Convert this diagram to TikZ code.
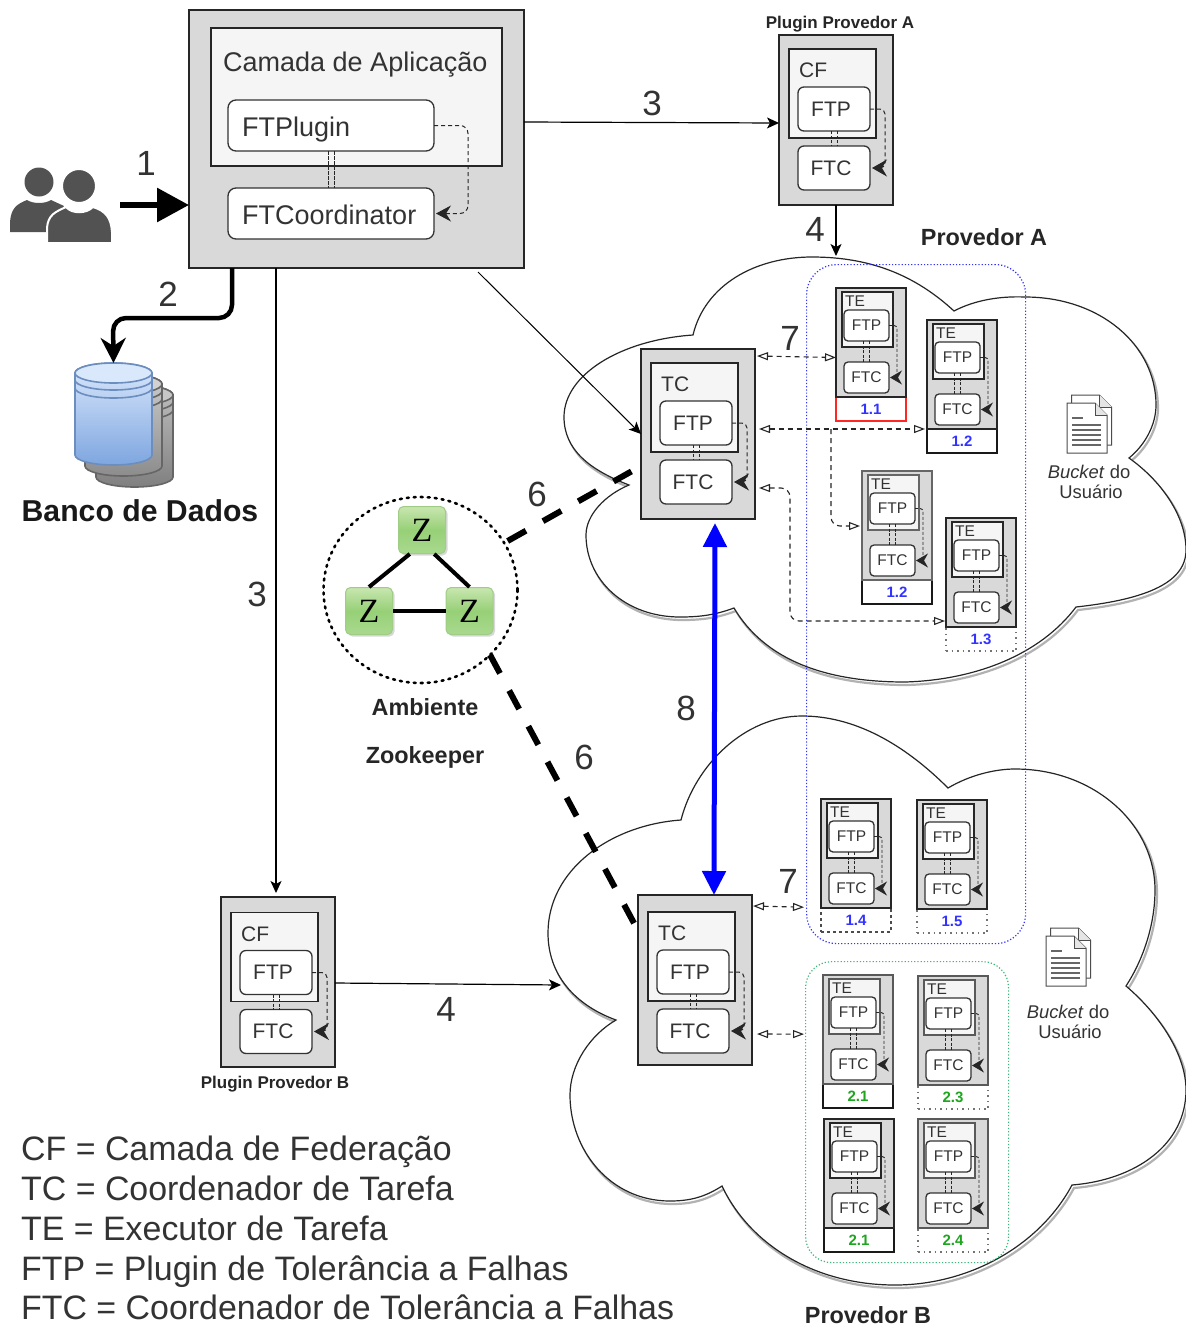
\documentclass[tikz,border=0pt]{standalone}
\usepackage{fontspec}
\setmainfont{Liberation Sans}
\newfontfamily\zfont{Liberation Serif}
\usetikzlibrary{arrows.meta,calc,shapes.geometric,shadows}
\definecolor{txt}{HTML}{333333}
\definecolor{boxg}{HTML}{D9D9D9}
\definecolor{inng}{HTML}{F5F5F5}
\definecolor{blu}{HTML}{3333FF}
\definecolor{grn}{HTML}{1FA51F}
\definecolor{grnb}{HTML}{3CB878}
\definecolor{dbtop}{HTML}{DAE8FC}
\definecolor{dbbot}{HTML}{7EA6E0}
\definecolor{dbline}{HTML}{6C8EBF}
\definecolor{ztop}{HTML}{C8E6B0}
\definecolor{zmid}{HTML}{97D077}
\definecolor{zbot}{HTML}{A9D98E}
\definecolor{zline}{HTML}{A0CC85}
\tikzset{
  outerbox/.style={draw=black!85,fill=boxg,line width=1.5pt,anchor=north west,inner sep=0pt,outer sep=0pt},
  innerbox/.style={draw=black!85,fill=inng,line width=1.5pt,anchor=north west,inner sep=0pt,outer sep=0pt},
  roundbox/.style={draw=black!80,fill=white,line width=1.3pt,rounded corners=6pt,anchor=north west,inner sep=0pt,outer sep=0pt,text=txt},
  lbl/.style={text=txt,inner sep=0pt,anchor=west},
  num/.style={text=txt,inner sep=0pt,font=\fontsize{35}{35}\selectfont},
  boldlbl/.style={text=black!85,inner sep=0pt,font=\fontsize{23.4}{24}\selectfont\bfseries},
  legendline/.style={text=txt,inner sep=0pt,anchor=base west,font=\fontsize{33.9}{34}\selectfont},
  bucketlbl/.style={text=txt,inner sep=0pt,font=\fontsize{18.4}{19}\selectfont},
  dsh/.style={draw=black!85,line width=1pt,dash pattern=on 4pt off 3pt},
  thin arrow/.style={draw=black,line width=1.2pt,-{Stealth[length=12pt,width=11pt,inset=3pt]}},
  open both/.style={draw=black!85,line width=1.1pt,dash pattern=on 5pt off 4pt,{Triangle[open,fill=white,length=11pt,width=8pt]}-{Triangle[open,fill=white,length=11pt,width=8pt]}},
  open end/.style={draw=black!85,line width=1.1pt,dash pattern=on 5pt off 4pt,-{Triangle[open,fill=white,length=11pt,width=8pt]}},
  stripred/.style={draw=red!85,line width=1.4pt},
  stripsolid/.style={draw=black!90,line width=1.4pt},
  stripdash/.style={draw=black!70,line width=1.2pt,dash pattern=on 3pt off 3pt},
  stripdot/.style={draw=black!55,line width=1.5pt,dash pattern=on 1.5pt off 4pt},
  zbox/.style={draw=zline,line width=1pt,rounded corners=5pt,top color=ztop,bottom color=zbot,middle color=zmid,minimum width=47pt,minimum height=47pt,inner sep=0pt,font=\fontsize{34}{34}\selectfont\zfont,drop shadow={opacity=.3,shadow xshift=2pt,shadow yshift=-2pt}},
  cloudline/.style={draw=black!85,line width=1.2pt,fill=white},
  cloudshadow/.style={draw=black!30,line width=2.2pt},
  fat dash/.style={draw=black,line width=6pt,dash pattern=on 21pt off 19.5pt}
}
% big unit: [inner dy] name x y label
\newcommand{\bigunit}[5][0]{%
\begin{scope}[shift={(#3,#4)}]
\node[outerbox,minimum width=114pt,minimum height=170pt] (#2) at (0,0) {};
\begin{scope}[shift={(0,#1)}]
\node[innerbox,minimum width=87pt,minimum height=89pt] (#2i) at (10,14) {};
\node[lbl,font=\fontsize{21}{21}\selectfont] (#2t) at (20,35.5) {#5};
\node[roundbox,minimum width=72pt,minimum height=44pt,font=\fontsize{21}{21}\selectfont] (#2p) at (19,52) {\hspace*{-6pt}FTP};
\node[roundbox,minimum width=72pt,minimum height=44pt,font=\fontsize{21}{21}\selectfont] (#2c) at (19,111) {\hspace*{-6pt}FTC};
\draw[dsh,dash pattern=on 3pt off 1.5pt] ([xshift=-3pt]#2p.south) -- ([xshift=-3pt]#2c.north);
\draw[dsh,dash pattern=on 3pt off 1.5pt] ([xshift=3pt]#2p.south) -- ([xshift=3pt]#2c.north);
\draw[dsh,rounded corners=5pt,-{Stealth[length=15pt,width=17pt,inset=5pt]}] (#2p.east) -- ++(15,0) -- ($(#2c.east)+(15,0)$) -- ([xshift=2pt]#2c.east);
\end{scope}
\end{scope}}
% small unit: [opts] name x y label strip colour
\newcommand{\teunit}[7][]{%
\begin{scope}[shift={(#3,#4)}]
\node[#6,anchor=north west,fill=white,minimum width=70pt,minimum height=24pt,inner sep=0pt,outer sep=0pt,text=#7,font=\fontsize{15}{15}\selectfont\bfseries] (#2s) at (0,109) {#5};
\node[outerbox,minimum width=70pt,minimum height=109pt,#1] (#2) at (0,0) {};
\node[innerbox,minimum width=51pt,minimum height=55pt,#1] (#2i) at (6,4) {};
\node[lbl,font=\fontsize{15.5}{15.5}\selectfont] (#2t) at (9,13) {TE};
\node[roundbox,minimum width=45pt,minimum height=31pt,font=\fontsize{15.5}{15.5}\selectfont,rounded corners=4pt] (#2p) at (8,22) {FTP};
\node[roundbox,minimum width=45pt,minimum height=31pt,font=\fontsize{15.5}{15.5}\selectfont,rounded corners=4pt] (#2c) at (8,74) {FTC};
\draw[dsh,line width=.9pt,dash pattern=on 3pt off 1.5pt] ([xshift=-3pt]#2p.south) -- ([xshift=-3pt]#2c.north);
\draw[dsh,line width=.9pt,dash pattern=on 3pt off 1.5pt] ([xshift=3pt]#2p.south) -- ([xshift=3pt]#2c.north);
\draw[dsh,line width=.9pt,dash pattern=on 3pt off 2pt,rounded corners=3pt,-{Stealth[length=12pt,width=14pt,inset=4pt]}] (#2p.east) -- ++(8,0) -- ($(#2c.east)+(8,0)$) -- ([xshift=1pt]#2c.east);
\end{scope}}
% database cylinder
\newcommand{\dbcyl}[6]{%
\begin{scope}[shift={(#1,#2)}]
\draw[draw=#5,line width=1.6pt,top color=#3,bottom color=#4] (0,10) -- (0,92) arc[start angle=180,end angle=360,x radius=38.5pt,y radius=10pt] -- (77,10) arc[start angle=0,end angle=180,x radius=38.5pt,y radius=10pt] -- cycle;
\draw[draw=#5,line width=1.6pt,fill=#6] (38.5,10) ellipse[x radius=38.5pt,y radius=10pt];
\draw[draw=#5,line width=1.6pt] (0,17) arc[start angle=180,end angle=360,x radius=38.5pt,y radius=10pt];
\draw[draw=#5,line width=1.6pt] (0,25) arc[start angle=180,end angle=360,x radius=38.5pt,y radius=10pt];
\end{scope}}
% document icon
\newcommand{\docpage}[2]{%
\begin{scope}[shift={(#1,#2)}]
\draw[draw=black!70,line width=1pt,fill=white] (0,0) -- (28,0) -- (40,12) -- (40,50) -- (0,50) -- cycle;
\draw[draw=black!70,line width=1pt,fill=black!10] (28,0) -- (28,12) -- (40,12);
\end{scope}}
\newcommand{\docicon}[2]{%
\docpage{#1+4.5}{#2-8}
\docpage{#1}{#2}
\begin{scope}[shift={(#1,#2)}]
\draw[black!60,line width=1.2pt] (5,15) -- (16,15) (5,22) -- (34,22) (5,27) -- (34,27) (5,32) -- (34,32) (5,37) -- (34,37) (5,42) -- (34,42);
\end{scope}}
\newcommand{\cloudApath}{(629,485) .. controls (590,470) and (564,450) .. (564,417) .. controls (564,375) and (620,340) .. (693,335) .. controls (705,285) and (755,257) .. (812,257) .. controls (870,257) and (915,275) .. (954,311) .. controls (975,300) and (1000,296) .. (1025,297) .. controls (1100,297) and (1156,345) .. (1156,405) .. controls (1156,425) and (1145,445) .. (1129,458) .. controls (1160,480) and (1186,515) .. (1186,550) .. controls (1186,585) and (1140,600) .. (1076,607) .. controls (1040,655) and (975,680) .. (905,682) .. controls (825,682) and (765,660) .. (734,608) .. controls (715,615) and (700,617) .. (680,617) .. controls (625,617) and (586,580) .. (586,535) .. controls (586,515) and (605,495) .. (629,485) -- cycle}
\newcommand{\cloudBpath}{(616,1020) .. controls (575,1005) and (548,975) .. (548,933) .. controls (548,870) and (610,825) .. (681,820) .. controls (695,765) and (745,716) .. (802,716) .. controls (860,716) and (910,750) .. (948,788) .. controls (970,775) and (995,769) .. (1015,769) .. controls (1095,769) and (1155,825) .. (1155,890) .. controls (1155,925) and (1143,960) .. (1126,986) .. controls (1160,1015) and (1186,1055) .. (1186,1090) .. controls (1186,1145) and (1135,1180) .. (1072,1185) .. controls (1040,1245) and (970,1285) .. (895,1285) .. controls (815,1285) and (750,1245) .. (722,1186) .. controls (705,1197) and (690,1201) .. (670,1201) .. controls (610,1201) and (570,1150) .. (570,1095) .. controls (570,1065) and (590,1035) .. (616,1020) -- cycle}
\begin{document}
\begin{tikzpicture}[x=1pt,y=-1pt]
\useasboundingbox (0,0) rectangle (1186,1326);
\fill[white] (0,0) rectangle (1186,1326);
% clouds
\draw[cloudshadow,shift={(2,3)}] \cloudApath;
\draw[cloudline] \cloudApath;
\draw[cloudshadow,shift={(2,3)}] \cloudBpath;
\draw[cloudline] \cloudBpath;
\coordinate (cloudAtop) at (836,256);
\coordinate (cloudBleft) at (561,985);
% dotted groups
\node[draw=blu,dotted,line width=1.2pt,rounded corners=30pt,anchor=north west,minimum width=219pt,minimum height=679pt,inner sep=0pt] (groupA) at (806,264) {};
\node[draw=grnb,dotted,line width=1.2pt,rounded corners=26pt,anchor=north west,minimum width=203pt,minimum height=301pt,inner sep=0pt] (groupB) at (805,961) {};
% application box
\node[outerbox,minimum width=335pt,minimum height=258pt] (app) at (189,10) {};
\node[innerbox,minimum width=291pt,minimum height=138pt] (appi) at (211,28) {};
\node[lbl,font=\fontsize{27}{27}\selectfont] (appt) at (223,65) {Camada de Aplicação};
\node[roundbox,minimum width=206pt,minimum height=51pt,rounded corners=8pt] (ftpl) at (228,100) {};
\node[lbl,font=\fontsize{27}{27}\selectfont] (ftplt) at (242,130) {FTPlugin};
\node[roundbox,minimum width=206pt,minimum height=51pt,rounded corners=8pt] (ftco) at (228,188) {};
\node[lbl,font=\fontsize{27}{27}\selectfont] (ftcot) at (242,215) {FTCoordinator};
\draw[dsh,dash pattern=on 3.5pt off 1.5pt] ([xshift=-3pt]ftpl.south) -- ([xshift=-3pt]ftco.north);
\draw[dsh,dash pattern=on 3.5pt off 1.5pt] ([xshift=3.5pt]ftpl.south) -- ([xshift=3.5pt]ftco.north);
\draw[dsh,rounded corners=8pt,-{Stealth[length=15pt,width=16pt,inset=5pt]}] (ftpl.east) -- ++(34,0) -- ($(ftco.east)+(34,0)$) -- ([xshift=2pt]ftco.east);
% users
\fill[black!68] (39,182) circle[radius=14.5pt];
\fill[black!68] (10,232) -- (10,222) .. controls (11,208) and (17,204) .. (27,200) .. controls (33,204) and (45,204) .. (51,200) -- (64,206) -- (50,232) -- cycle;
\draw[white,line width=2pt,fill=black!68] (47,243) -- (47,228) .. controls (48,215) and (55,212) .. (66,207) .. controls (72,214) and (86,214) .. (93,207) .. controls (106,211) and (111,218) .. (112,232) -- (112,243) -- cycle;
\draw[white,line width=2pt,fill=black!68] (79,186) circle[radius=17pt];
\coordinate (usersE) at (120,205);
% database
\dbcyl{96}{385}{black!25}{black!50}{black!60}{black!22}
\dbcyl{85}{374}{black!20}{black!45}{black!60}{black!18}
\dbcyl{75}{363}{dbtop}{dbbot}{dbline}{dbtop}
\node[minimum width=77pt,minimum height=102pt,inner sep=0pt,outer sep=0pt,anchor=north west] (db) at (75,363) {};
\node[boldlbl,font=\fontsize{30.2}{31}\selectfont\bfseries,text=black!90] (dbt) at (140,511) {Banco de Dados};
% units
\bigunit{pa}{779}{35}{CF}
\bigunit[1.5]{pb}{221}{897}{CF}
\bigunit{tca}{641}{349}{TC}
\bigunit[3]{tcb}{638}{895}{TC}
\teunit{te11}{836}{288}{1.1}{stripred}{blu}
\teunit{te12}{927}{320}{1.2}{stripsolid}{blu}
\teunit[draw=black!60,line width=2.2pt]{te12b}{862}{471}{1.2}{stripsolid}{blu}
\teunit{te13}{946}{518}{1.3}{stripdot}{blu}
\teunit{te14}{821}{799}{1.4}{stripdash}{blu}
\teunit{te15}{917}{800}{1.5}{stripdot}{blu}
\teunit[draw=black!65,line width=1.8pt]{te21}{823}{975}{2.1}{stripsolid}{grn}
\teunit[draw=black!65,line width=1.8pt]{te23}{918}{976}{2.3}{stripdot}{grn}
\teunit{te21b}{824}{1119}{2.1}{stripsolid}{grn}
\teunit[draw=black!65,line width=1.8pt]{te24}{918}{1119}{2.4}{stripdot}{grn}
% zookeeper
\node[draw=black,ellipse,dash pattern=on 2pt off 5pt,line cap=round,line width=2.6pt,minimum width=194pt,minimum height=186pt,inner sep=0pt,outer sep=0pt] (zk) at (420.5,590) {};
\node[zbox] (z1) at (422,530) {Z};
\node[zbox] (z2) at (369,611) {Z};
\node[zbox] (z3) at (469.5,611) {Z};
\draw[line width=4pt] (z1.243) -- (z2.north);
\draw[line width=4pt] (z1.297) -- (z3.north);
\draw[line width=4pt] (z2.east) -- (z3.west);
\node[boldlbl] (zk1) at (425,707) {Ambiente};
\node[boldlbl] (zk2) at (425,757) {Zookeeper};
% connectors
\draw[line width=6pt,-{Triangle[length=32pt,width=33pt]}] (usersE) -- (app.west |- usersE);
\draw[line width=4.5pt,rounded corners=13pt,-{Stealth[length=25pt,width=25pt,inset=8pt]}] ($(app.south west)+(43,0)$) -- ++(0,50) -- (113,318) -- (db.north);
\draw[thin arrow] ([yshift=17pt]app.east) -- ([yshift=-3pt]pa.west);
\draw[thin arrow] ($(app.south west)+(87,0)$) -- (276,893);
\draw[thin arrow] (pa.south) -- (cloudAtop);
\draw[thin arrow] ([yshift=-1pt]pb.east) -- (cloudBleft);
\coordinate (diagS) at (478,272);
\draw[thin arrow,line width=1pt] (diagS) -- (tca.west);
\draw[fat dash,shorten <=4pt,shorten >=11pt] (zk) -- (tca);
\coordinate (zkB) at (635,925);
\draw[fat dash] (zk.-43) -- (zkB);
\draw[draw=blue,line width=5pt,{Triangle[length=24pt,width=23pt]}-{Triangle[length=24pt,width=23pt]}] ([xshift=17pt,yshift=-4pt]tca.south) -- ([xshift=19pt]tcb.north);
% dashed links between coordinators and executors
\draw[open both] ($(tca.north east)+(2,7)$) -- ($(te11.west)+(0,15)$);
\draw[open both] ($(tca.east)+(4,-5)$) -- ($(te12s.north west)+(-2,0)$);
\coordinate (branch) at (831,429);
\draw[open end,rounded corners=9pt] (branch) -- (831,526) -- ($(te12b.west)+(-2,0.5)$);
\draw[open both,rounded corners=9pt] ($(tca.east)+(4,54)$) -- (790,488) -- (790,621) -- ($(te13.south west)+(-1,-6)$);
\draw[open both] ($(tcb.north east)+(1,11)$) -- ($(groupA.south west)+(-2,-37)$);
\draw[open both] ($(tcb.east)+(5,54)$) -- ($(groupB.west)+(-1,-78)$);
% numbers
\node[num] (n1) at (146,163) {1};
\node[num] (n2) at (168,294) {2};
\node[num] (n3a) at (652,103) {3};
\node[num] (n3b) at (257,594) {3};
\node[num] (n4a) at (815,229) {4};
\node[num] (n4b) at (446,1009) {4};
\node[num] (n6a) at (537,494) {6};
\node[num] (n6b) at (584,757) {6};
\node[num] (n7a) at (790,338) {7};
\node[num] (n7b) at (788,881) {7};
\node[num] (n8) at (686,708) {8};
% titles
\node[boldlbl] (provA) at (984,237) {Provedor A};
\node[boldlbl] (provB) at (868,1315) {Provedor B};
\node[boldlbl,font=\fontsize{17}{18}\selectfont\bfseries] (plA) at (840,24.5) {Plugin Provedor A};
\node[boldlbl,font=\fontsize{17}{18}\selectfont\bfseries] (plB) at (275,1084.5) {Plugin Provedor B};
% buckets
\docicon{1067}{403}
\node[bucketlbl] (bA1) at (1089,472) {\textit{Bucket} do};
\node[bucketlbl] (bA2) at (1091,492) {Usuário};
\docicon{1046}{936}
\node[bucketlbl] (bB1) at (1068,1012) {\textit{Bucket} do};
\node[bucketlbl] (bB2) at (1070,1032) {Usuário};
% legend
\node[legendline] (l1) at (21,1160) {CF = Camada de Federação};
\node[legendline] (l2) at (21,1200) {TC = Coordenador de Tarefa};
\node[legendline] (l3) at (21,1240) {TE = Executor de Tarefa};
\node[legendline] (l4) at (21,1280) {FTP = Plugin de Tolerância a Falhas};
\node[legendline] (l5) at (21,1319) {FTC = Coordenador de Tolerância a Falhas};
\end{tikzpicture}
\end{document}
